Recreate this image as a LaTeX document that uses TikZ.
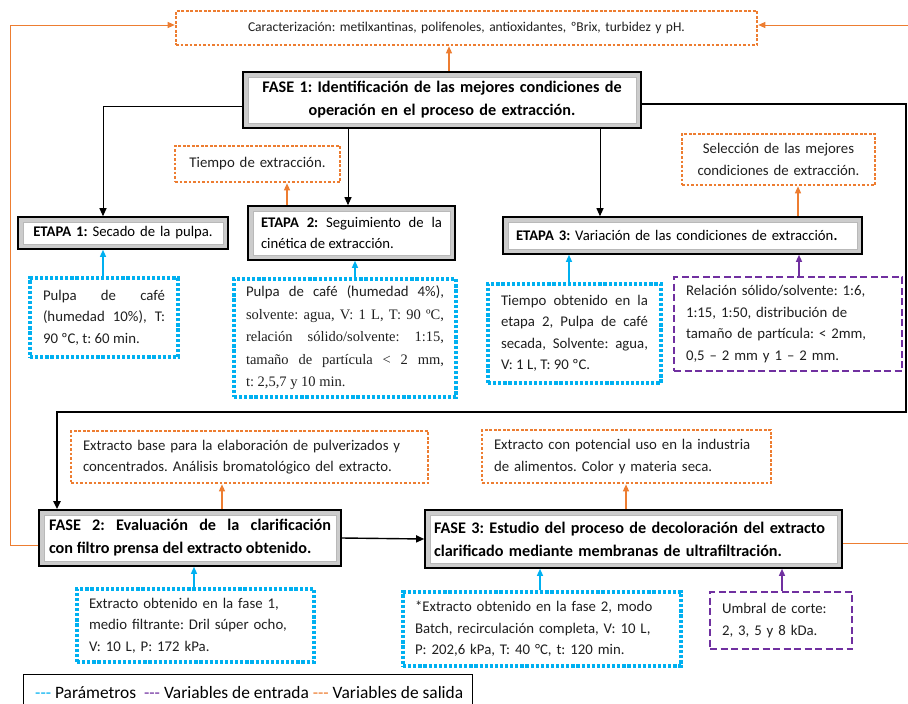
\documentclass[tikz,border=0pt]{standalone}
\usepackage{fontspec}
\setmainfont{Carlito}
\newfontfamily\timesfont{Liberation Serif}
\usepackage{tikz}
\usetikzlibrary{arrows.meta}
\frenchspacing

\definecolor{salida}{HTML}{ED7D31}
\definecolor{param}{HTML}{00B0F0}
\definecolor{entrada}{HTML}{7030A0}

\tikzset{
	bevel/.style={draw=black, line width=1.6pt, fill=gray!40, text=black,
		path picture={
			\draw[gray!55, line width=0.8pt, fill=white]
				([shift={(5pt,-5pt)}]path picture bounding box.north west) rectangle
				([shift={(-5pt,5pt)}]path picture bounding box.south east);
		}},
	fasetext/.style={font=\fontsize{16.2}{23}\selectfont\bfseries},
	etapatext/.style={font=\fontsize{14.7}{21.5}\selectfont},
	bodytext/.style={font=\fontsize{14.8}{21.5}\selectfont, text=black!88},
	outbox/.style={draw=salida, line width=2.6pt, dash pattern=on 2.6pt off 1.9pt, bodytext},
	parbox/.style={draw=param, line width=3.2pt, dash pattern=on 3.2pt off 1.9pt, bodytext},
	inbox/.style={draw=entrada, line width=2pt, dash pattern=on 7pt off 3.5pt, bodytext},
	flow/.style={draw=black, line width=1pt, -{Triangle[length=8pt,width=7pt]}},
	outarrow/.style={draw=salida, line width=1.3pt, -{Triangle[length=7pt,width=6pt]}},
	pararrow/.style={draw=param, line width=1.3pt, -{Triangle[length=7pt,width=6pt]}},
	inarrow/.style={draw=entrada, line width=1.3pt, -{Triangle[length=7pt,width=6pt]}},
	backline/.style={draw=salida, line width=0.9pt, -{Triangle[length=7pt,width=6pt]}},
}

\begin{document}
\begin{tikzpicture}[x=1pt,y=-1pt]
	\useasboundingbox (0,0) rectangle (908,704);

	\node[outbox, font=\fontsize{13.5}{16}\selectfont, minimum width=581, minimum height=34, text width=565, inner xsep=8, align=center] (caract) at (466.5,28)
		{Caracterización: metilxantinas, polifenoles, antioxidantes, ºBrix, turbidez y pH.};

	\node[bevel, fasetext, minimum width=398, minimum height=56, text width=378, inner xsep=10, align=center] (fase1) at (442,100)
		{FASE 1: Identificación de las mejores condiciones de\\operación en el proceso de extracción.};

	\node[outbox, minimum width=165, minimum height=36, text width=153, inner xsep=6, align=center] (tiempo) at (257.5,164)
		{Tiempo de extracción.};
	\node[outbox, minimum width=193, minimum height=51, text width=181, inner xsep=6, align=center] (seleccion) at (778.5,159.5)
		{Selección de las mejores\\condiciones de extracción.};

	\node[bevel, etapatext, minimum width=210, minimum height=32, text width=190, inner xsep=10, align=center] (etapa1) at (123,233)
		{\textbf{ETAPA 1:} Secado de la pulpa.};
	\node[bevel, etapatext, minimum width=207, minimum height=54, text width=181, inner xsep=13, align=justify] (etapa2) at (351.5,233)
		{\textbf{ETAPA 2:} Seguimiento de la\linebreak cinética de extracción.};
	\node[bevel, etapatext, minimum width=359, minimum height=37, text width=333, inner xsep=13, align=left] (etapa3) at (682.5,235.5)
		{\textbf{ETAPA 3:} Variación de las condiciones de extracción\textbf{.}};

	\node[parbox, minimum width=148, minimum height=79, text width=122, inner xsep=13, align=justify] (param1) at (104,317.5)
		{Pulpa de café\linebreak (humedad 10\%), T:\linebreak 90 ºC, t: 60 min.};
	\node[parbox, minimum width=222, minimum height=118, text width=198, inner xsep=12, align=justify] (param2) at (345,338)
		{Pulpa de café (humedad 4\%),\linebreak {\timesfont\fontsize{14.5}{22.5}\selectfont solvente: agua, V: 1 L, T: 90 ºC,\linebreak relación sólido/solvente: 1:15,\linebreak tamaño de partícula < 2 mm,\linebreak t: 2,5,7 y 10 min.\par}};
	\node[parbox, minimum width=173, minimum height=99, text width=147, inner xsep=13, align=justify] (param3) at (574.5,333.5)
		{Tiempo obtenido en la\linebreak etapa 2, Pulpa de café\linebreak secada, Solvente: agua,\linebreak V: 1 L, T: 90 ºC.};
	\node[inbox, minimum width=228, minimum height=94, text width=204, inner xsep=12, align=left] (entr3) at (788,324)
		{Relación sólido/solvente: 1:6,\\1:15, 1:50, distribución de\\tamaño de partícula: < 2mm,\\0,5 – 2 mm y 1 – 2 mm.};

	\node[outbox, minimum width=357, minimum height=52, text width=333, inner xsep=12, align=left] (salida2) at (249.5,457)
		{Extracto base para la elaboración de pulverizados y\\concentrados. Análisis bromatológico del extracto.};
	\node[outbox, minimum width=289, minimum height=53, text width=265, inner xsep=12, align=left] (salida3) at (626.5,456.5)
		{Extracto con potencial uso en la industria\\de alimentos. Color y materia seca.};

	\node[bevel, fasetext, minimum width=302, minimum height=56, text width=282, inner xsep=10, align=justify] (fase2) at (190,538)
		{FASE 2: Evaluación de la clarificación\linebreak con filtro prensa del extracto obtenido.};
	\node[bevel, fasetext, minimum width=417, minimum height=58, text width=399, inner xsep=9, align=left] (fase3) at (633.5,539)
		{FASE 3: Estudio del proceso de decoloración del extracto\\clarificado mediante membranas de ultrafiltración.};

	\node[parbox, minimum width=237, minimum height=73, text width=213, inner xsep=12, align=left] (param4) at (195.5,625.5)
		{Extracto obtenido en la fase 1,\\medio filtrante: Dril súper ocho,\\V: 10 L, P: 172 kPa.};
	\node[parbox, minimum width=278, minimum height=74, text width=254, inner xsep=12, align=left] (param5) at (542,629)
		{*Extracto obtenido en la fase 2, modo\\Batch, recirculación completa, V: 10 L,\\P: 202,6 kPa, T: 40 °C, t: 120 min.};
	\node[inbox, minimum width=142, minimum height=57, text width=118, inner xsep=12, align=left] (entr5) at (781,620.5)
		{Umbral de corte:\\2, 3, 5 y 8 kDa.};

	\draw[black, line width=1pt] (23,712) |- (472,674) -- (472,712);
	\node[font=\fontsize{17.4}{20}\selectfont, anchor=west, inner xsep=0] (leyenda) at (35,693)
		{{\color{param}-{}-{}-} Parámetros\hspace{4pt} {\color{entrada}-{}-{}-} Variables de entrada {\color{salida}-{}-{}-} Variables de salida};

	\draw[flow] ([yshift=-6pt]fase1.west) -| (103,0 |- etapa1.north);
	\draw[flow] (348,0 |- fase1.south) -- (348,0 |- etapa2.north);
	\draw[flow] (600,0 |- fase1.south) -- (600,0 |- etapa3.north);
	\draw[flow, line width=2pt] ([yshift=-4pt]fase1.east) -| (906,412) -| (57,0 |- fase2.north);
	\draw[flow, line width=1.4pt] (fase2.east) -- (fase3.west);

	\draw[outarrow] (449,0 |- fase1.north) -- (449,0 |- caract.south);
	\draw[outarrow] (287,0 |- etapa2.north) -- (287,0 |- tiempo.south);
	\draw[outarrow] (798,0 |- etapa3.north) -- (798,0 |- seleccion.south);
	\draw[outarrow] (222,0 |- fase2.north) -- (222,0 |- salida2.south);
	\draw[outarrow] (626,0 |- fase3.north) -- (626,0 |- salida3.south);

	\draw[pararrow] (103,0 |- param1.north) -- (103,0 |- etapa1.south);
	\draw[pararrow] (355,0 |- param2.north) -- (355,0 |- etapa2.south);
	\draw[pararrow] (569,0 |- param3.north) -- (569,0 |- etapa3.south);
	\draw[pararrow] (194,0 |- param4.north) -- (194,0 |- fase2.south);
	\draw[pararrow] (540,0 |- param5.north) -- (540,0 |- fase3.south);

	\draw[inarrow] (799,0 |- entr3.north) -- (799,0 |- etapa3.south);
	\draw[inarrow] (782,0 |- entr5.north) -- (782,0 |- fase3.south);

	\draw[backline] ([yshift=-7pt]fase2.west) -| (10,25) -- (10,25 -| caract.west);
	\draw[backline] ([yshift=-4pt]fase3.east) -| (912,25) -- (912,25 -| caract.east);
\end{tikzpicture}
\end{document}
